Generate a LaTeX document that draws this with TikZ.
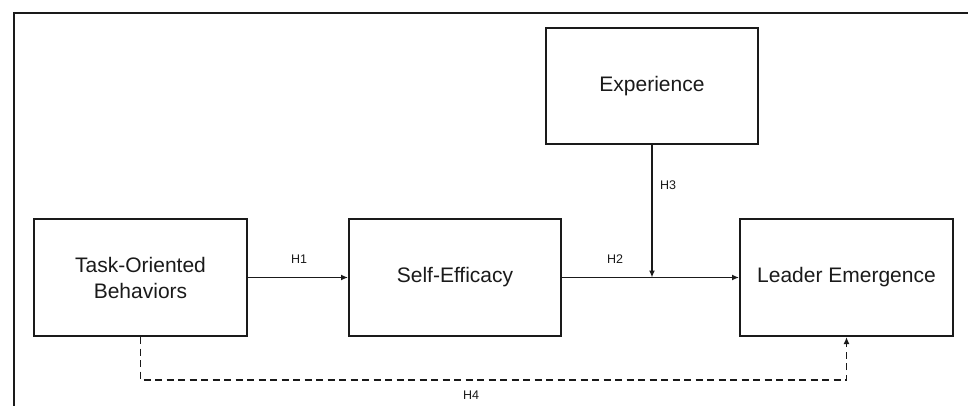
\documentclass[tikz,border=0pt]{standalone}
\usepackage{fontspec}
\setmainfont{Liberation Sans}
\usetikzlibrary{arrows.meta}
\definecolor{ink}{HTML}{1A1A1A}
\begin{document}
\begin{tikzpicture}[x=1pt,y=-1pt,
  box/.style={draw=ink,line width=2pt,rectangle,inner sep=0pt,align=center,
    text=ink,font=\fontsize{21}{26}\selectfont},
  hlab/.style={text=ink,font=\fontsize{12.5}{14}\selectfont,inner sep=0pt},
  conn/.style={draw=ink,line width=1.9pt,-{Latex[length=7pt,width=6pt]}},
  dconn/.style={conn,dash pattern=on 7pt off 4.5pt}]
\useasboundingbox (0,0) rectangle (968,406);
\draw[ink,line width=1.9pt] (14,406) -- (14,13) -- (968,13);
\node[box,minimum width=213pt,minimum height=117pt] (task) at (140.5,277.5) {Task-Oriented\\Behaviors};
\node[box,minimum width=212pt,minimum height=117pt] (self) at (455,277.5) {Self-Efficacy};
\node[box,minimum width=213pt,minimum height=117pt] (leader) at (846.5,277.5) {Leader Emergence};
\node[box,minimum width=212pt,minimum height=116pt] (exp) at (652,86) {Experience};
\coordinate (join) at (exp.south |- self.east);
\draw[conn] (task.east) -- (self.west);
\draw[conn] (self.east) -- (leader.west);
\draw[conn] (exp.south) -- (join);
\draw[dconn] (task.south) -- ++(0,43) -| (leader.south);
\node[hlab] (h1) at (299,259) {H1};
\node[hlab] (h2) at (615,259) {H2};
\node[hlab] (h3) at (668,185) {H3};
\node[hlab] (h4) at (471,395) {H4};
\end{tikzpicture}
\end{document}
